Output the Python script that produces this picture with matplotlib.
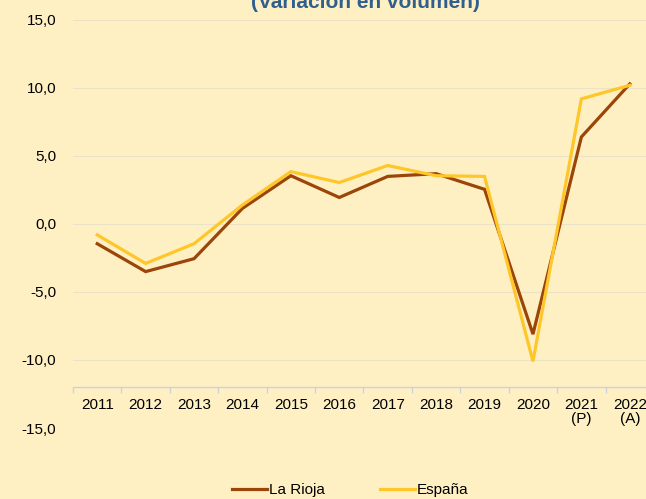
import matplotlib.pyplot as plt
from matplotlib.ticker import FuncFormatter, FixedLocator

years = ["2011", "2012", "2013", "2014", "2015", "2016", "2017", "2018",
         "2019", "2020", "2021\n(P)", "2022\n(A)"]
la_rioja = [-1.45, -3.5, -2.55, 1.15, 3.55, 1.95, 3.5, 3.7, 2.55, -8.1, 6.4, 10.3]
espana = [-0.8, -2.9, -1.45, 1.4, 3.85, 3.05, 4.3, 3.55, 3.5, -10.1, 9.2, 10.2]

bg = "#FFF0C4"
plt.rcParams['font.family'] = ['Liberation Sans', 'DejaVu Sans']

fig = plt.figure(figsize=(6.46, 4.99), dpi=100, facecolor=bg)
ax = fig.add_axes([73 / 646, 1 - 428 / 499, 581 / 646, 408 / 499])
ax.set_facecolor(bg)

x = list(range(len(years)))
ax.plot(x, la_rioja, color="#9C4508", lw=2.3, label="La Rioja", solid_joinstyle='miter')
ax.plot(x, espana, color="#FFC629", lw=2.3, label="España", solid_joinstyle='miter')

ax.set_xlim(-0.5, len(years) - 0.5)
ax.set_ylim(-15, 15)
ax.set_yticks(range(-15, 16, 5))
ax.yaxis.set_major_formatter(FuncFormatter(lambda v, p: f"{v:.1f}".replace(".", ",")))
ax.grid(axis='y', color="#EBE2C8", lw=0.8)
ax.set_axisbelow(True)

for s in ['top', 'right', 'left']:
    ax.spines[s].set_visible(False)
ax.spines['bottom'].set_position(('data', -12))
ax.spines['bottom'].set_color("#CBD3E0")
ax.spines['bottom'].set_linewidth(1.0)

ax.set_xticks(x)
ax.set_xticklabels(years, linespacing=1.0)
ax.xaxis.set_minor_locator(FixedLocator([i - 0.5 for i in range(len(years) + 1)]))
ax.tick_params(axis='x', which='major', length=0, pad=8, labelsize=11, colors='black')
ax.tick_params(axis='x', which='minor', length=4, color="#CBD3E0", width=1.0)
ax.tick_params(axis='y', length=0, pad=12, labelsize=11)

fig.text(365 / 646, 1 - 8 / 499, "(Variación en volumen)", ha='center', va='baseline',
         fontsize=15, fontweight='bold', color="#2F5F8C")

fig.legend(loc='center', bbox_to_anchor=(350 / 646, 1 - 490 / 499), ncol=2, frameon=False,
           fontsize=11, handlelength=2.3, handletextpad=0.1, columnspacing=3.6)

plt.savefig("out.png", dpi=100, facecolor=bg)
